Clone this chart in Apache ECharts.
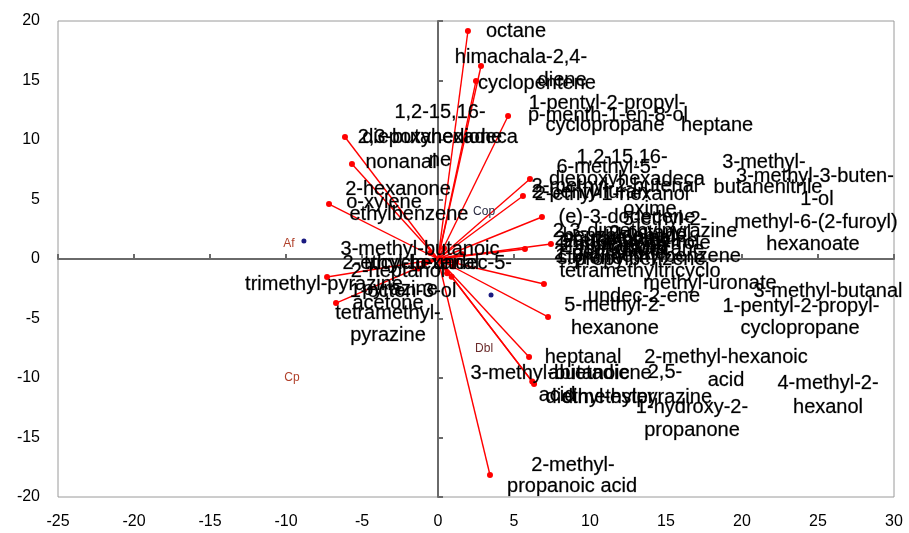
<!DOCTYPE html>
<html>
<head>
<meta charset="utf-8">
<script src="https://cdn.jsdelivr.net/npm/echarts@6/dist/echarts.min.js"></script>
<style>
html,body{margin:0;padding:0;background:#fff;}
#chart{width:909px;height:533px;}
</style>
</head>
<body>
<div id="chart"></div>
<script>
// Vector end points (loadings)
var vecX = [1.97, 2.83, 2.50, 4.61, -6.12, -5.66, -7.17, 6.05, 5.59, 6.84, 7.43, 5.72, -7.30, -6.71, 6.97, 7.24, 5.99, 6.32, 6.20, 3.42, 1.0, 1.6, -0.9, 0.6, -0.5, 1.2, 0.4, -1.3, 0.9];
var vecY = [19.16, 16.22, 14.96, 12.02, 10.25, 7.98, 4.62, 6.72, 5.29, 3.53, 1.26, 0.84, -1.51, -3.70, -2.10, -4.87, -8.24, -10.50, -10.30, -18.15, -0.6, 0.4, -0.3, -1.2, 0.5, -0.2, 0.9, -0.8, -1.5];

// Sample scores (blue points)
var sampleX = [-8.82, 3.49];
var sampleY = [1.51, -3.03];

// Sample names (small labels)
var smallText = ["Af", "Cop", "Dbl", "Cp"];
var smallX = [-9.80, 3.03, 3.03, -9.61];
var smallY = [1.26, 3.95, -7.56, -10.0];
var smallColor = ["#b0402a", "#2a2a40", "#6a2a2a", "#b0402a"];

// Compound labels
var labText = [
  "octane", "himachala-2,4-", "diene", "cyclopentene", "1-pentyl-2-propyl-", "p-menth-1-en-8-ol", "cyclopropane", "heptane",
  "1,2-15,16-", "diepoxyhexadeca", "2,3-butanedione", "ne", "nonanal", "2-hexanone", "o-xylene", "ethylbenzene",
  "3-methyl-butanoic", "2-ethyl-hexanal", "tricyclo-undec-5-", "2-heptanol", "trimethyl-pyrazine", "pyrazine", "1-octen-3-ol",
  "acetone", "tetramethyl-", "pyrazine",
  "1,2-15,16-", "6-methyl-5-", "diepoxyhexadeca", "3-methyl-", "3-methyl-3-buten-", "butanenitrile", "1-ol",
  "2-methyl-2-butenal", "2-ethyl-1-hexanol", "2-pentylfuran", "oxime", "(e)-3-dodecene", "5-ethyl-2-",
  "methyl-6-(2-furoyl)", "hexanoate",
  "2,3-dimethylpyrazine", "benzaldehyde", "2-ethylpyrazine", "limonene", "2-nonanone", "hexanal", "2-octanol",
  "acetic acid", "pyrrole", "1,3-dimethylbenzene", "2-pentanone", "propylbenzene", "2-butanone", "undecane", "styrene",
  "tetramethyltricyclo", "methyl-uronate", "undec-2-ene", "3-methyl-butanal", "5-methyl-2-", "1-pentyl-2-propyl-",
  "hexanone", "cyclopropane", "heptanal", "2-methyl-hexanoic", "3-methyl-butanoic", "abietadiene", "2,5-",
  "acid", "diethyl-ester", "dimethylpyrazine", "acid", "4-methyl-2-", "hexanol", "1-hydroxy-2-", "propanone",
  "2-methyl-", "propanoic acid"
];
var labX = [
  5.13, 5.46, 8.16, 6.51, 11.12, 11.18, 10.99, 18.36,
  0.13, 0.13, -0.53, 0.13, -2.43, -2.63, -3.55, -1.91,
  -1.18, -1.78, 0.0, -2.63, -7.50, -2.50, -2.30,
  -3.29, -3.29, -3.29,
  12.11, 11.12, 12.43, 21.45, 24.80, 21.71, 24.93,
  11.64, 11.45, 10.00, 13.95, 12.43, 14.93,
  24.87, 24.67,
  13.62, 12.30, 12.63, 10.66, 11.64, 13.29, 13.95,
  11.97, 15.92, 13.82, 11.32, 13.29, 10.99, 14.61, 10.00,
  13.29, 17.89, 13.55, 25.66, 11.64, 23.88,
  11.64, 23.82, 9.54, 18.95, 7.37, 10.66, 14.93,
  7.83, 10.66, 13.09, 18.95, 25.66, 25.66, 16.71, 16.71,
  8.88, 8.82
];
var labY = [
  19.16, 16.97, 15.04, 14.79, 13.03, 12.02, 11.18, 11.26,
  12.35, 10.25, 10.25, 8.24, 8.15, 5.80, 4.71, 3.78,
  0.76, -0.34, -0.34, -1.09, -2.18, -2.60, -2.69,
  -3.70, -4.54, -6.39,
  8.57, 7.65, 6.64, 8.15, 6.97, 6.05, 4.96,
  6.13, 5.38, 5.55, 4.12, 3.53, 3.28,
  3.11, 1.18,
  2.35, 1.93, 1.51, 1.26, 1.01, 1.76, 2.18,
  0.76, 1.34, 0.17, 0.50, -0.08, 1.68, 0.84, 0.08,
  -1.09, -2.02, -3.19, -2.77, -3.87, -3.95,
  -5.80, -5.80, -8.24, -8.24, -9.58, -9.58, -9.50,
  -11.51, -11.60, -11.60, -10.25, -10.50, -12.44, -12.44, -14.37,
  -17.31, -19.08
];

var xMin = -25, xMax = 30, xStep = 5;
var yMin = -20, yMax = 20, yStep = 5;

var chart = echarts.init(document.getElementById('chart'));

var vecLines = vecX.map(function (x, i) { return { coords: [[0, 0], [x, vecY[i]]] }; });
var vecPts = vecX.map(function (x, i) { return [x, vecY[i]]; });
var samplePts = sampleX.map(function (x, i) { return [x, sampleY[i]]; });
var labPts = labText.map(function (t, i) { return { name: t, value: [labX[i], labY[i]] }; });
var smallPts = smallText.map(function (t, i) {
  return { name: t, value: [smallX[i], smallY[i]], label: { color: smallColor[i] } };
});

var fontFam = 'Liberation Sans, Arial, sans-serif';
var zeroLine = { color: '#6a6a6a', width: 2 };

function xAx(extra) {
  return Object.assign({ type: 'value', min: xMin, max: xMax, interval: xStep, splitLine: { show: false } }, extra);
}
function yAx(extra) {
  return Object.assign({ type: 'value', min: yMin, max: yMax, interval: yStep, splitLine: { show: false } }, extra);
}

chart.setOption({
  animation: false,
  backgroundColor: '#ffffff',
  grid: { left: 58, right: 15, top: 21, bottom: 36, show: true, borderColor: '#9a9a9a', borderWidth: 1, containLabel: false },
  xAxis: [
    xAx({ axisLine: { show: true, onZero: true, onZeroAxisIndex: 0, lineStyle: zeroLine }, axisTick: { show: true, inside: true, length: 5, lineStyle: zeroLine }, axisLabel: { show: false } }),
    xAx({ axisLine: { show: false, onZero: true, onZeroAxisIndex: 0 }, axisTick: { show: true, inside: false, length: 5, lineStyle: zeroLine }, axisLabel: { show: false } }),
    xAx({ position: 'bottom', axisLine: { show: false, onZero: false }, axisTick: { show: false }, axisLabel: { show: true, fontSize: 16, color: '#000', fontFamily: fontFam, margin: 17 } })
  ],
  yAxis: [
    yAx({ axisLine: { show: true, onZero: true, onZeroAxisIndex: 0, lineStyle: zeroLine }, axisTick: { show: true, inside: true, length: 5, lineStyle: zeroLine }, axisLabel: { show: false } }),
    yAx({ axisLine: { show: false, onZero: true, onZeroAxisIndex: 0 }, axisTick: { show: true, inside: false, length: 5, lineStyle: zeroLine }, axisLabel: { show: false } }),
    yAx({ position: 'left', axisLine: { show: false, onZero: false }, axisTick: { show: false }, axisLabel: { show: true, fontSize: 16, color: '#000', fontFamily: fontFam, margin: 18 } })
  ],
  series: [
    {
      type: 'lines', coordinateSystem: 'cartesian2d', xAxisIndex: 0, yAxisIndex: 0,
      data: vecLines, lineStyle: { color: '#ff0000', width: 1.4, opacity: 1 }, z: 2, silent: true
    },
    {
      type: 'scatter', xAxisIndex: 0, yAxisIndex: 0, data: vecPts,
      symbolSize: 6, itemStyle: { color: '#ff0000', opacity: 1 }, z: 3, silent: true
    },
    {
      type: 'scatter', xAxisIndex: 0, yAxisIndex: 0, data: samplePts,
      symbolSize: 5, itemStyle: { color: '#1a1a80', opacity: 1 }, z: 3, silent: true
    },
    {
      type: 'scatter', xAxisIndex: 0, yAxisIndex: 0, data: labPts, symbolSize: 0, z: 5, silent: true,
      itemStyle: { opacity: 1 },
      label: { show: true, position: 'inside', formatter: function (p) { return p.name; }, fontSize: 20, color: '#000000', textBorderColor: 'rgba(0,0,0,0.45)', textBorderWidth: 0.5, fontFamily: fontFam }
    },
    {
      type: 'scatter', xAxisIndex: 0, yAxisIndex: 0, data: smallPts, symbolSize: 0, z: 5, silent: true,
      itemStyle: { opacity: 1 },
      label: { show: true, position: 'inside', formatter: function (p) { return p.name; }, fontSize: 12, fontFamily: fontFam }
    }
  ]
});
</script>
</body>
</html>
